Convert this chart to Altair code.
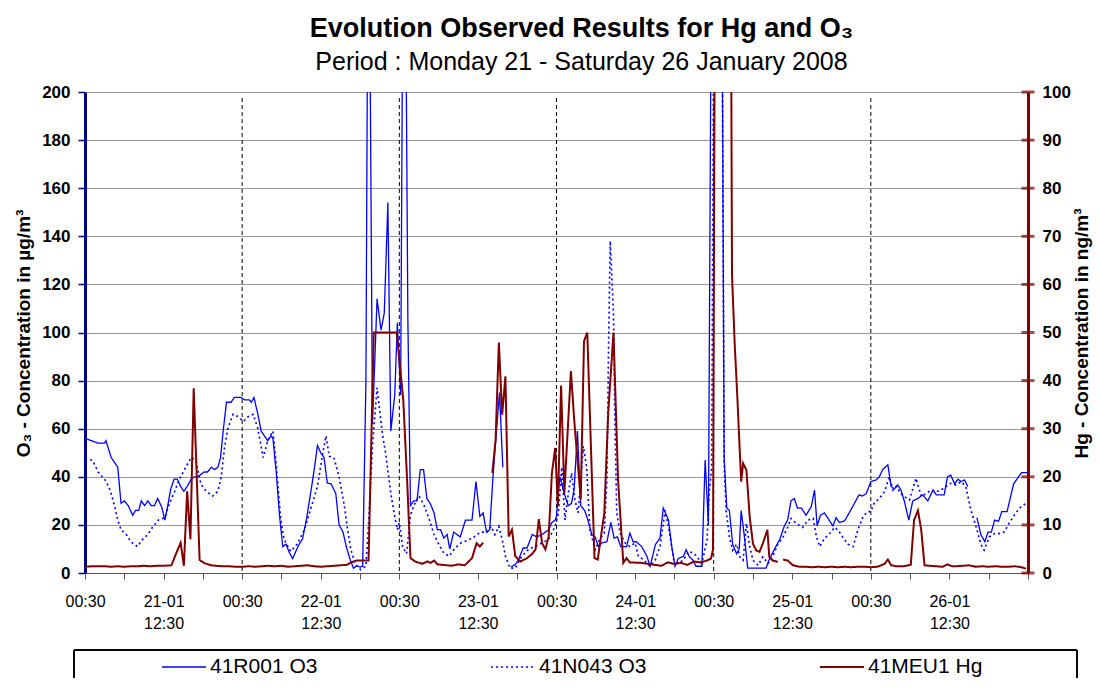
import json
import altair as alt
import pandas as pd

# ---------------- data (hours after 21-01 00:30) ----------------
series_names = ["41R001 O3", "41N043 O3", "41MEU1 Hg"]

r001_h = [0, 1, 2, 3, 3.2, 4, 5, 5.5, 6, 6.6, 7.3, 7.7, 8.2, 8.6, 9.1, 9.6, 10.1, 10.6, 11.1, 11.7,
          12.2, 12.6, 13.1, 13.6, 14.1, 14.6, 15.1, 15.6, 16.2, 16.7, 17.2, 17.7, 18.2, 18.7, 19.3,
          19.8, 20.3, 20.7, 21.1, 21.6, 22.3, 22.8, 23.8, 24.4, 25.1, 25.4, 25.8, 26.4, 26.9, 27.4,
          27.9, 28.4, 28.7, 29.2, 29.7, 30.2, 30.7, 31.2, 31.7, 32.2, 32.7, 33.2, 33.8, 34.5, 35.0,
          35.5, 36.0, 36.5, 37.0, 37.6, 38.3, 38.8, 39.4, 39.9, 40.5, 41.0, 41.5, 42.0, 42.4, 42.9,
          43.15, 43.5, 43.9, 44.6, 45.2, 45.7, 46.25, 46.7, 47.3, 47.7, 48.2, 48.5, 49.0, 49.3, 49.7,
          50.2, 50.7, 51.2, 51.7, 52.2, 52.7, 53.3, 53.8, 54.3, 54.8, 55.3, 55.7, 56.3, 57.3, 58.1,
          59.1, 59.7, 60.3, 60.8, 61.3, 61.8, 62.3, 62.8, 63.3, 63.8, None,
          65.0, 65.7, 66.2, 66.9, 67.5, 68.3, 69.0, 69.8, 70.8, 71.3, 71.8, 72.0, 72.5, 73.2, 73.8,
          74.3, 74.7, 75.2, 75.7, 76.3, 76.8, 77.4, 77.9, 78.4, 78.9, 79.7, 80.3, 80.8, 81.3, 81.8,
          82.7, 83.2, 83.7, 84.2, 85.0, 85.8, 86.3, 87.1, 87.8, 88.3, 89.1, 89.6, 90.1, 90.6, 91.4,
          91.8, 92.3, 92.8, 93.3, 94.2, 94.7, 95.2, 95.6, 96.0, 97.3, 97.6, 98.0, 98.4, 98.9, 99.5,
          99.9, 100.2, 100.7, 101.2, 104.0, 104.5, 105.3, 106.1, 106.8, 107.3, 107.8, 108.3, 108.8,
          109.4, 110.1, 110.9, 111.4, 111.8, 112.3, 112.9, 113.4, 114.2, 114.7, 115.2, 116.0, 116.7,
          117.5, 118.2, 118.7, 119.3, 120.0, 120.8, 121.3, 121.8, 122.6, 123.1, 123.6, 124.1, 124.6,
          125.1, 125.8, 126.4, 127.2, 127.9, 128.7, 129.5, 130.0, 131.2, 131.7, 132.2, 132.8, 133.3,
          133.8, 134.3, 134.8, None,
          136.2, 136.8, 137.4, 137.9, 138.4, 138.9, 139.5, 140.0, 140.8, 141.8, 142.3, 143.0, 143.9]
r001_v = [56, 55, 54, 54, 55, 48, 44, 29, 30, 28, 24, 26, 26, 30, 28, 30, 28, 28, 31, 27.5,
          22, 27.5, 35, 39, 39, 36, 34, 36, 39, 40, 40, 41, 42, 42, 44,
          43, 44, 48, 59, 71, 71, 73, 73, 72, 72, 71, 73, 66, 59, 57,
          55, 57, 56, 42, 24, 11, 12, 8.5, 6, 9, 12, 14, 22, 34, 43,
          53, 50, 48, 37.4, 37, 33, 20, 17, 11, 5.5, 2, 3, 2.5, 2.8, 80,
          230, 230, 62, 114, 101, 108, 154, 59, 74, 104, 74, 230, 230, 106, 28,
          30, 30, 43, 43, 31, 29, 25, 18, 18, 14.5, 16, 10, 17, 15, 22,
          22, 38, 23.5, 25, 17, 18, 40, 58, 75, 44, None,
          2.5, 3.5, 5.5, 10.4, 10.4, 16, 15, 16, 18, 21, 22, 23.6, 40, 33, 28,
          29, 35, 59, 28, 26, 22, 16, 15, 11, 12.5, 13, 21, 14.5, 15, 11,
          11, 16.6, 13, 13, 11, 7, 2.8, 11.8, 14.5, 27, 22, 11, 2.8, 6, 7,
          9.7, 6.7, 5.5, 2.8, 2.8, 47, 20, 230, 230, 230, 48, 27, 26, 12, 8,
          10, 26, 15, 2, 2, 5.7, 10, 14, 19.6, 22, 30, 31, 27,
          27, 24, 27.6, 34.5, 19.6, 24, 25, 23, 19.6, 23, 21, 21.7, 25,
          29, 32.5, 32, 33, 38, 38.7, 40, 43, 45, 36, 35, 36.6, 34.5,
          30, 22, 30, 31, 32.5, 30, 34.5, 32.5, 32.5, 40, 40.7, 37, 39,
          38, 38.7, 36, None,
          23, 16, 13, 17, 17, 22, 21.5, 25.5, 25.5, 37, 39, 41.7, 41.7]

n043_h = [0, 0.5, 1, 1.5, 2, 3, 3.6, 4, 4.5, 5, 5.5, 6.3, 7, 8, 8.8, 9.6, 10.3, 11.2, 12.2, 12.9,
          13.7, 14.4, 15.2, 16.2, 16.9, 17.7, 18.5, 19.5, 20.3, 20.8, 21.3, 21.8, 22.6, 23.4, 24.2,
          24.9, 25.7, 26.4, 27.2, 27.9, 28.7, 29.2, 29.9, 30.4, 31.4, 32.4, 33.5, 34.5, 35.5, 36.2,
          36.8, 37.3, 38.0, 38.8, 39.6, 40.1, 40.6, 41.3, 42.1, 42.9, 43.4, 43.9, 44.6, 45.4, 45.9,
          46.7, 47.2, 47.7, 48.0, 48.5, 49.1, 49.7, 50.2, 51.0, 51.8, 52.6, 53.3, 54.0, 54.8, 55.6,
          56.4, 57.4, 58.4, 59.4, 60.4, 61.4, 62.0, 62.6, 63.2, 63.7, 64.2, 64.9, 65.7, 66.7, 67.8,
          68.8, 69.8, 70.8, 71.8, 72.3, 72.8, 73.3, 73.8, 74.3, 74.8, 75.3, 76.1, 76.6, 77.1, 77.9,
          78.6, 79.3, 79.7, 79.95, 80.2, 80.7, 80.9, 81.2, 81.7, 82.5, 83.2, 84.0, 84.5, 85.3, 86.3,
          87.1, 87.8, 88.6, 89.1, 89.9, 90.6, 91.4, 92.2, 92.9, 93.4, 94.2, 95.0, 95.3, 95.7, 96.0,
          97.3, 97.6, 97.9, 98.4, 98.9, 99.5, 100.0, 100.5, 101.0, 101.5, 102.0, 102.8, 103.5, 104.3,
          105.0, 105.8, 106.6, 107.3, 107.8, 108.6, 109.6, 110.4, 111.2, 111.7, 112.2, 112.9, 113.7,
          114.5, 115.0, 115.7, 116.5, 117.3, 118.0, 118.8, 119.5, 120.0, 120.5, 121.3, 122.1, 122.8,
          123.4, 123.9, 124.6, 125.1, 125.9, 126.9, 127.7, 128.4, 129.2, 130.0, 130.7, 131.5, 132.2,
          133.0, 133.8, 134.5, 135.3, 136.1, 136.8, 137.3, 138.1, 138.9, 139.6, 140.4, 141.1, 141.9,
          142.7, 143.7]
n043_v = [47, 47, 47, 45, 42, 39, 36, 33, 28, 22, 18, 16, 13, 11, 14, 16, 19, 22, 23, 29,
          34, 39, 43, 48, 47, 37, 34, 32, 34, 40, 52, 60, 66, 65, 63,
          65, 66, 60, 48, 55, 59, 45, 22, 14, 9, 12, 18, 27, 36, 48,
          57, 48.5, 48, 40, 28, 18, 9.7, 3.5, 1.4, 2.8, 25, 53, 77, 58, 50,
          33, 25, 18, 21, 11, 8, 24, 28, 32, 28, 22, 16, 12, 8.3, 7,
          10, 12.5, 13.5, 15, 17, 17, 19.4, 16, 19.4, 14, 7, 2, 2, 7, 10,
          11, 12.5, 14, 19.4, 25, 44, 22, 33, 41.6, 30.5, 25, 52.7, 44, 18, 9.7,
          14, 16.6, 39, 94, 138, 108, 66.6, 25, 16.6, 12.5, 11, 12.5, 7, 5.5, 2.8,
          5.5, 11, 26, 19.4, 5.5, 4, 5.5, 9, 8.3, 7, 4, 14, 33, 44, 230,
          230, 45.7, 26, 15, 9.5, 12, 6.7, 5.3, 20.6, 11, 5.3, 3.2, 6.7, 4,
          6.7, 12, 15, 19, 22.7, 20.6, 19, 22, 22.7, 15, 11, 14.3, 16.4,
          19, 17.8, 15, 12, 11, 17.8, 23.4, 25.5, 25.5, 29, 31, 33.8, 40,
          34.5, 36, 33, 31.8, 30.4, 39.4, 31.8, 33, 34.5, 33.8, 34.5, 36, 37.3,
          36.6, 38, 36, 26, 19, 12, 9.5, 15, 16.4, 16.4, 17.1, 20.6, 24,
          27, 29]

meu1_h = [0, 1, 2, 3, 4, 5, 6, 7, 8, 9, 10, 11, 12, 13.2, 13.9, 14.6, 15.1, 15.6, 16.1, 16.6, 17.5,
          18.3, 19.3, 20, 21, 22, 23, 24, 25, 26, 27, 28, 29, 30, 31, 32, 33, 34, 35, 36, 37, 38, 39,
          40.0, 40.6, 41.5, 43.3, 44.1, 47.6, 48.6, 49.2, 49.7, 50.4, 51.5, 52.3, 52.8, 53.3, 53.8,
          54.6, 56, 57, 58, 59.1, 59.8, 60.3, 60.8, None,
          62.2, 62.7, 63.2, 63.7, 64.2, 64.7, 65.2, 65.7, 66.5, 67.5, 68.3, 68.8, 69.3, 69.8, 70.3,
          70.8, 71.3, 71.8, 72.2, 72.7, 73.2, 74.2, 74.7, 75.7, 76.2, 76.7, 77.8, 78.3, 79.3, 79.9,
          80.7, 81.4, 82.2, 82.7, 83.2, 85, 86, 87, 88, 89, 90, 91, 92, 93, 94, 95, 95.6, 95.9, 96.2,
          98.6, 98.7, 98.8, 99.2, 99.6, 100.2, 100.5, 101.0, 101.5, 102.0, 102.5, 103.0, 103.5,
          104.2, 104.5, 105.0, 105.8, None,
          106.6, 107.3, 108.1, 109.1, 110, 111, 112, 113, 114, 115, 116, 117, 118, 119, 120, 121,
          122.1, 122.6, 123.1, 124, 125, 126.1, 126.6, 127.2, 127.7, 128.2, 129, 130, 131, 131.7,
          132.4, 133, 134, 135, 136, 137, 138, 139, 140, 141, 142, 143, 143.7]
meu1_v = [1.3, 1.4, 1.4, 1.4, 1.3, 1.4, 1.3, 1.4, 1.4, 1.5, 1.4, 1.5, 1.5, 1.6, 4, 6.3, 1.5, 17, 7,
          38.4, 2.7, 2.0, 1.6, 1.5, 1.4, 1.4, 1.3, 1.3, 1.4, 1.3, 1.4, 1.5, 1.4, 1.5, 1.3, 1.4, 1.5,
          1.6, 1.4, 1.3, 1.4, 1.5, 1.6, 1.7, 2.2, 2.6, 2.6, 50, 50, 36, 19, 3.1, 2.4, 1.9, 2.4, 2.1,
          2.6, 1.8, 1.7, 1.5, 1.8, 1.6, 3.1, 6.2, 5.5, 6.3, None,
          20.8, 27.7, 47.9, 32.9, 40.9, 7.6, 9, 3.5, 2.4, 3.1, 4, 4.9, 11.2, 6.2, 4.9,
          7.6, 20.8, 26, 13.9, 39, 16.6, 42, 31.9, 15.3, 48.2, 50, 3.1, 2.8, 12.5, 33.3,
          50, 19.4, 2.1, 3.1, 2.2, 2.1, 1.9, 1.7, 1.5, 2.2, 1.9, 2.1, 1.7, 2.4, 2.2, 2.6, 3, 4.9, 130,
          130, 100, 62, 48, 37, 19, 22.8, 21.4, 11.7, 6.1, 4.7, 4.4, 6.1,
          9, 3.3, 2.6, 2.3, None,
          2.8, 2.6, 1.6, 1.3, 1.3, 1.2, 1.3, 1.2, 1.3, 1.2, 1.3, 1.2, 1.3, 1.3, 1.2, 1.3,
          1.9, 2.8, 1.6, 1.4, 1.4, 1.7, 11, 13, 8.9, 1.6, 1.5, 1.4, 1.3, 1.8,
          1.4, 1.4, 1.5, 1.6, 1.3, 1.4, 1.3, 1.4, 1.3, 1.3, 1.4, 1.2, 0.9]

tick_hours = list(range(0, 145, 6))
tick_labels = ["00:30", "", ["21-01", "12:30"], "", "00:30", "", ["22-01", "12:30"], "",
               "00:30", "", ["23-01", "12:30"], "", "00:30", "", ["24-01", "12:30"], "",
               "00:30", "", ["25-01", "12:30"], "", "00:30", "", ["26-01", "12:30"], "", ""]
day_lines = [24, 48, 72, 96, 120]
o3_ticks = list(range(0, 201, 20))
hg_ticks = list(range(0, 101, 10))

# ---------------- build tables ----------------
def build(hours, values, name):
    rows, seg = [], 0
    for h, v in zip(hours, values):
        if v is None:
            seg += 1
            continue
        rows.append({"h": h, "v": v, "series": name, "seg": f"{name}-{seg}"})
    return rows

o3_df = pd.DataFrame(build(r001_h, r001_v, series_names[0]) + build(n043_h, n043_v, series_names[1]))
hg_df = pd.DataFrame(build(meu1_h, meu1_v, series_names[2]))
days_df = pd.DataFrame({"h": day_lines})
hgt_df = pd.DataFrame({"v": hg_ticks})

FONT = "Liberation Sans"
W, H = 943, 481

x_axis = alt.Axis(values=tick_hours,
                  labelExpr=json.dumps(tick_labels) + "[round(datum.value / 6)]",
                  grid=False, tickSize=6, tickColor="#555555", domainColor="#555555",
                  labelFont=FONT, labelFontSize=16, labelColor="black", labelPadding=14,
                  labelLineHeight=22, labelAngle=0, labelFlush=False, labelOverlap=False,
                  title=None)
X = alt.X("h:Q", scale=alt.Scale(domain=[0, 144], nice=False, zero=False), axis=x_axis)

y_left = alt.Y("v:Q", scale=alt.Scale(domain=[0, 200], nice=False),
               axis=alt.Axis(orient="left", values=o3_ticks, grid=True, gridColor="#999999",
                             domainColor="#000080", domainWidth=3, tickColor="#000080",
                             tickSize=7, tickWidth=1.5, labelPadding=8,
                             labelFont=FONT, labelFontSize=17, labelFontWeight="bold",
                             labelColor="black",
                             title="O₃ - Concentration in µg/m³", titleFont=FONT,
                             titleFontSize=19, titleFontWeight="bold", titleColor="black",
                             titleAngle=270, titleX=-62, titleY=241, titleBaseline="middle",
                             titleAlign="center"))
y_right = alt.Y("v:Q", scale=alt.Scale(domain=[0, 100], nice=False),
                axis=alt.Axis(orient="right", values=hg_ticks, grid=False,
                              domainColor="#800000", domainWidth=3, ticks=False,
                              labelPadding=14,
                              labelFont=FONT, labelFontSize=17, labelFontWeight="bold",
                              labelColor="black",
                              title="Hg - Concentration in ng/m³", titleFont=FONT,
                              titleFontSize=19, titleFontWeight="bold", titleColor="black",
                              titleAngle=270, titleX=53, titleY=241, titleBaseline="middle",
                              titleAlign="center"))

leg = alt.Legend(orient="none", legendX=76, legendY=552, direction="horizontal", title=None,
                 symbolType="stroke", symbolSize=1936, labelFont=FONT, labelFontSize=21,
                 labelColor="black", columnPadding=169, labelOffset=3, padding=0)
color = alt.Color("series:N", scale=alt.Scale(domain=series_names,
                  range=["#0000FF", "#0000FF", "#800000"]), legend=leg)
dash = alt.StrokeDash("series:N", scale=alt.Scale(domain=series_names,
                      range=[[1, 0], [2, 3], [1, 0]]), legend=leg)
sw = alt.StrokeWidth("series:N", scale=alt.Scale(domain=series_names,
                     range=[1.3, 2, 3.3]), legend=leg)

rules = alt.Chart(days_df).mark_rule(color="black", strokeDash=[4, 3], strokeWidth=1).encode(
    x=X, y=alt.value(6), y2=alt.value(H))
o3_lines = alt.Chart(o3_df).mark_line(clip=True).encode(
    x=X, y=y_left, color=color, strokeDash=dash, strokeWidth=sw, detail="seg:N")
box = alt.Chart(days_df).mark_rect(fillOpacity=0, stroke="black", strokeWidth=1).encode(
    x=alt.value(-11), x2=alt.value(992), y=alt.value(558), y2=alt.value(620))

hg_line = alt.Chart(hg_df).mark_line(clip=True).encode(
    x=X, y=y_right, color=color, strokeDash=dash, strokeWidth=sw, detail="seg:N")
hg_tk = alt.Chart(hgt_df).mark_tick(orient="horizontal", size=13, thickness=3,
                                    color="#800000").encode(x=alt.value(W), y=y_right)

chart = alt.layer(alt.layer(rules, o3_lines, box), alt.layer(hg_line, hg_tk)).resolve_scale(
    y="independent").properties(
    width=W, height=H,
    autosize=alt.AutoSizeParams(type="none"),
    padding={"left": 77, "top": 84, "right": 65, "bottom": 105},
    title=alt.TitleParams(text="Evolution Observed Results for Hg and O₃",
                          subtitle="Period : Monday 21 - Saturday 26 January 2008",
                          font=FONT, fontSize=27, fontWeight="bold", color="black",
                          subtitleFont=FONT, subtitleFontSize=25, subtitleColor="black",
                          anchor="middle", frame="group", dx=25, offset=7,
                          subtitlePadding=7)
).configure_view(stroke=None).configure(font=FONT)

chart.save("out.html", embed_options={"renderer": "svg", "actions": False})
